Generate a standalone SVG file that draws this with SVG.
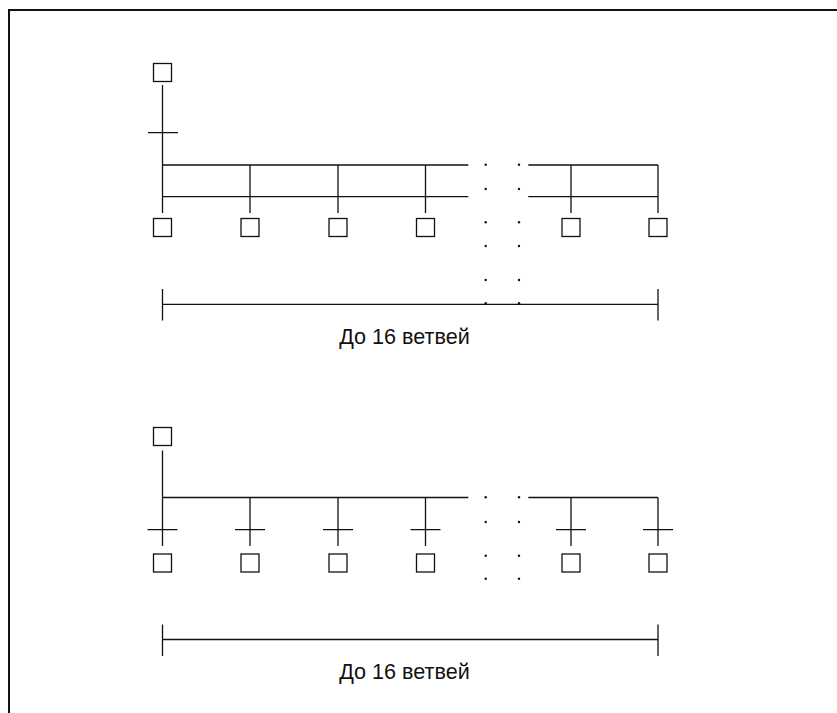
<svg xmlns="http://www.w3.org/2000/svg" width="837" height="713" viewBox="0 0 837 713">
<style>
.ln{stroke:#111;stroke-width:1.3;fill:none}
.sq{stroke:#111;stroke-width:1.3;fill:#fff}
.dot{fill:#111}
.lbl{font-family:"Liberation Sans",Arial,sans-serif;font-size:21.6px;fill:#111;text-anchor:middle}
</style>
<rect width="837" height="713" fill="#fff"/>
<path d="M9 713 V10 H837" stroke="#111" stroke-width="2" fill="none"/>
<g id="connectors">
<path class="ln" d="M162.5 85 V213 M148 132.7 H178"/>
<path class="ln" d="M162.5 165 H468.3 M528.3 165 H658 M162.5 196.7 H468.3 M528.3 196.7 H658"/>
<path class="ln" d="M250 165 V213 M338 165 V213 M425.5 165 V213 M571 165 V213 M658 165 V213"/>
<path class="ln" d="M162.5 304.3 H658 M162.5 289 V320.5 M658 289 V320.5"/>
<path class="ln" d="M162.5 450.5 V546 M162.5 497.5 H468.3 M528.3 497.5 H658"/>
<path class="ln" d="M250 497.5 V546 M338 497.5 V546 M425.5 497.5 V546 M571 497.5 V546 M658 497.5 V546"/>
<path class="ln" d="M147.5 529.7 H177.5 M235 529.7 H265 M323 529.7 H353 M410.5 529.7 H440.5 M556 529.7 H586 M643 529.7 H673"/>
<path class="ln" d="M162.5 639.5 H658 M162.5 624.5 V656 M658 624.5 V656"/>
</g>
<g id="dots">
<circle class="dot" cx="485.7" cy="164.8" r="1.2"/><circle class="dot" cx="519" cy="164.8" r="1.2"/>
<circle class="dot" cx="485.7" cy="189" r="1.2"/><circle class="dot" cx="519" cy="189" r="1.2"/>
<circle class="dot" cx="485.7" cy="222.3" r="1.2"/><circle class="dot" cx="519" cy="222.3" r="1.2"/>
<circle class="dot" cx="485.7" cy="246" r="1.2"/><circle class="dot" cx="519" cy="246" r="1.2"/>
<circle class="dot" cx="485.7" cy="280" r="1.2"/><circle class="dot" cx="519" cy="280" r="1.2"/>
<circle class="dot" cx="485.7" cy="303.3" r="1.2"/><circle class="dot" cx="519" cy="303.3" r="1.2"/>
<circle class="dot" cx="485.7" cy="497.3" r="1.2"/><circle class="dot" cx="519" cy="497.3" r="1.2"/>
<circle class="dot" cx="485.7" cy="522" r="1.2"/><circle class="dot" cx="519" cy="522" r="1.2"/>
<circle class="dot" cx="485.7" cy="555.7" r="1.2"/><circle class="dot" cx="519" cy="555.7" r="1.2"/>
<circle class="dot" cx="485.7" cy="578.7" r="1.2"/><circle class="dot" cx="519" cy="578.7" r="1.2"/>
</g>
<g id="d1-top"><rect class="sq" x="153.5" y="63.5" width="18" height="18"/></g>
<g id="d1-b1"><rect class="sq" x="153.5" y="218.5" width="18" height="18"/></g>
<g id="d1-b2"><rect class="sq" x="241" y="218.5" width="18" height="18"/></g>
<g id="d1-b3"><rect class="sq" x="329" y="218.5" width="18" height="18"/></g>
<g id="d1-b4"><rect class="sq" x="416.5" y="218.5" width="18" height="18"/></g>
<g id="d1-b5"><rect class="sq" x="562" y="218.5" width="18" height="18"/></g>
<g id="d1-b6"><rect class="sq" x="649" y="218.5" width="18" height="18"/></g>
<g id="d1-label"><text class="lbl" x="404.5" y="343.5">До 16 ветвей</text></g>
<g id="d2-top"><rect class="sq" x="153.5" y="427.5" width="18" height="18"/></g>
<g id="d2-b1"><rect class="sq" x="153.5" y="554" width="18" height="18"/></g>
<g id="d2-b2"><rect class="sq" x="241" y="554" width="18" height="18"/></g>
<g id="d2-b3"><rect class="sq" x="329" y="554" width="18" height="18"/></g>
<g id="d2-b4"><rect class="sq" x="416.5" y="554" width="18" height="18"/></g>
<g id="d2-b5"><rect class="sq" x="562" y="554" width="18" height="18"/></g>
<g id="d2-b6"><rect class="sq" x="649" y="554" width="18" height="18"/></g>
<g id="d2-label"><text class="lbl" x="404.5" y="678.5">До 16 ветвей</text></g>
</svg>
